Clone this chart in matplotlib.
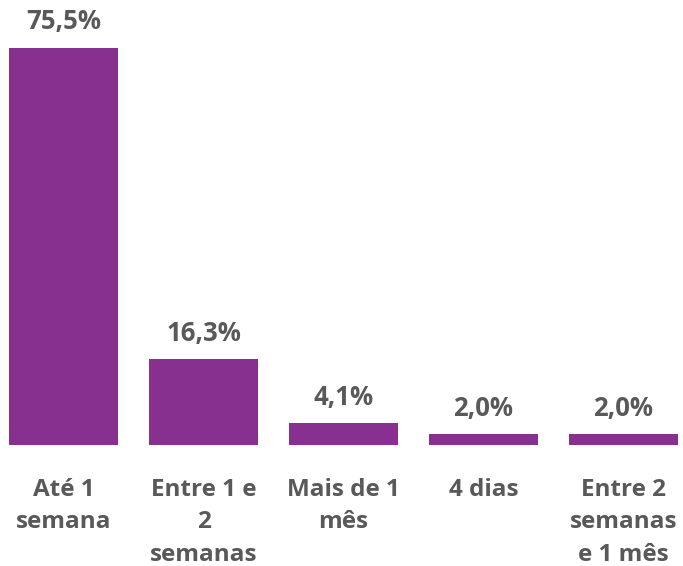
import matplotlib
matplotlib.use("Agg")
import matplotlib.pyplot as plt

categories = ["Até 1\nsemana", "Entre 1 e\n2\nsemanas", "Mais de 1\nmês", "4 dias", "Entre 2\nsemanas\ne 1 mês"]
values = [75.5, 16.3, 4.1, 2.0, 2.0]
value_labels = ["75,5%", "16,3%", "4,1%", "2,0%", "2,0%"]

bar_color = "#88308F"
text_color = "#595959"

fig = plt.figure(figsize=(6.83, 5.66), dpi=100)
W, H = 683, 566
base_px = 445
ax = fig.add_axes([0, (H - base_px) / H, 1, base_px / H])
x = list(range(len(categories)))
ax.bar(x, values, width=109 / 140, color=bar_color)
ax.set_xlim(-63.5 / 140, (W - 63.5) / 140)
ppu = 397 / 75.5
ax.set_ylim(0, base_px / ppu)
for xi, v, lab in zip(x, values, value_labels):
    ax.annotate(lab, (xi, v), xytext=(0, 9), textcoords="offset points",
                ha="center", va="bottom", fontsize=18.5, fontweight="bold",
                color=text_color, family="Open Sans")
ax.set_xticks(x)
ax.set_xticklabels(categories, fontsize=17.5, fontweight="bold", color=text_color,
                   family="Open Sans", linespacing=1.45)
ax.tick_params(axis="x", length=0, pad=24)
ax.set_yticks([])
for s in ax.spines.values():
    s.set_visible(False)
fig.savefig("out.png", dpi=100)
